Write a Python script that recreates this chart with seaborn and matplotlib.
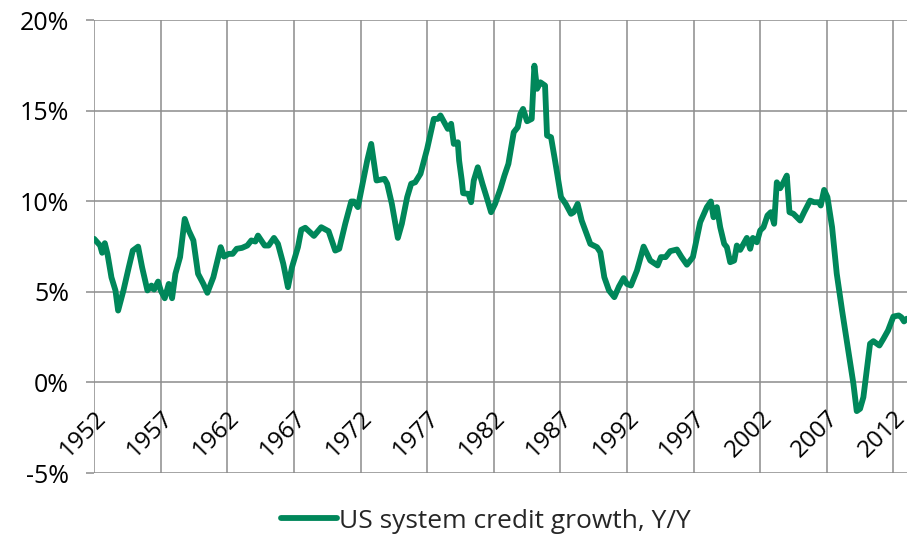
import matplotlib
matplotlib.use("Agg")
import matplotlib.pyplot as plt
import seaborn as sns
import pandas as pd


# Data (year, Y/Y growth in %)
years = [
    1952.0, 1952.45, 1952.6, 1952.8, 1953.0, 1953.3, 1953.6, 1953.8, 1954.2, 1954.6,
    1954.9, 1955.3, 1955.6, 1956.0, 1956.3, 1956.5, 1956.8, 1957.0, 1957.3, 1957.6,
    1957.85, 1958.1, 1958.45, 1958.8, 1959.1, 1959.45, 1959.8, 1960.2, 1960.5, 1960.95,
    1961.5, 1961.75, 1962.1, 1962.4, 1962.7, 1963.1, 1963.5, 1963.8, 1964.1, 1964.3,
    1964.8, 1965.1, 1965.5, 1965.8, 1966.2, 1966.55, 1966.85, 1967.3, 1967.55, 1967.85,
    1968.5, 1969.05, 1969.6, 1970.1, 1970.4, 1970.85, 1971.3, 1971.5, 1971.8, 1972.1,
    1972.5, 1972.8, 1973.2, 1973.8, 1974.0, 1974.35, 1974.8, 1975.1, 1975.5, 1975.8,
    1976.1, 1976.5, 1977.0, 1977.5, 1977.8, 1978.0, 1978.55, 1978.8, 1979.0, 1979.3,
    1979.4, 1979.6, 1979.7, 1980.1, 1980.3, 1980.5, 1980.8, 1981.15, 1981.5, 1981.8,
    1982.1, 1982.5, 1982.8, 1983.1, 1983.5, 1983.8, 1984.0, 1984.2, 1984.5, 1984.85,
    1985.05, 1985.25, 1985.5, 1985.85, 1986.0, 1986.3, 1986.6, 1987.05, 1987.4, 1987.8,
    1988.0, 1988.3, 1988.6, 1989.25, 1989.75, 1990.0, 1990.3, 1990.65, 1991.05, 1991.4,
    1991.75, 1992.0, 1992.3, 1992.75, 1993.25, 1993.75, 1994.3, 1994.55, 1994.9, 1995.25,
    1995.75, 1996.1, 1996.5, 1996.95, 1997.5, 1998.0, 1998.3, 1998.5, 1998.75, 1999.0,
    1999.3, 1999.5, 1999.75, 2000.05, 2000.25, 2000.5, 2001.0, 2001.25, 2001.45, 2001.75,
    2002.0, 2002.25, 2002.55, 2002.8, 2003.05, 2003.25, 2003.5, 2003.75, 2004.0, 2004.2,
    2004.5, 2005.0, 2005.3, 2005.75, 2006.05, 2006.4, 2006.55, 2006.8, 2007.05, 2007.4,
    2007.75, 2008.15, 2008.65, 2009.0, 2009.25, 2009.5, 2009.75, 2010.0, 2010.25, 2010.5,
    2010.95, 2011.25, 2011.6, 2012.0, 2012.4, 2012.6, 2012.8, 2013.0,
]
growth = [
    7.93, 7.56, 7.16, 7.69, 7.1, 5.8, 5.08, 3.97, 5.08, 6.36,
    7.28, 7.5, 6.36, 5.08, 5.35, 5.13, 5.57, 5.08, 4.65, 5.44,
    4.65, 6.0, 6.92, 9.03, 8.39, 7.84, 6.0, 5.44, 4.95, 5.81,
    7.47, 6.95, 7.1, 7.1, 7.38, 7.43, 7.56, 7.84, 7.78, 8.11,
    7.56, 7.56, 7.98, 7.65, 6.55, 5.26, 6.36, 7.47, 8.43, 8.54,
    8.09, 8.57, 8.35, 7.28, 7.38, 8.76, 9.99, 9.99, 9.68, 10.78,
    12.25, 13.17, 11.15, 11.24, 10.97, 9.86, 7.98, 8.76, 10.23, 10.97,
    11.05, 11.52, 12.9, 14.55, 14.55, 14.74, 14.0, 14.28, 13.17, 13.26,
    12.25, 11.15, 10.45, 10.41, 9.95, 11.15, 11.88, 10.97, 10.14, 9.4,
    9.86, 10.69, 11.42, 12.07, 13.81, 14.09, 14.83, 15.1, 14.42, 14.55,
    17.49, 16.21, 16.57, 16.39, 13.63, 13.54, 12.25, 10.23, 9.86, 9.31,
    9.4, 9.86, 8.94, 7.65, 7.47, 7.19, 5.81, 5.08, 4.71, 5.3,
    5.76, 5.44, 5.35, 6.18, 7.5, 6.73, 6.46, 6.92, 6.92, 7.25,
    7.34, 6.92, 6.5, 6.92, 8.85, 9.68, 9.99, 9.12, 9.68, 8.57,
    7.65, 7.47, 6.64, 6.73, 7.56, 7.32, 7.98, 7.38, 7.98, 7.74,
    8.39, 8.57, 9.22, 9.4, 8.76, 11.05, 10.72, 11.05, 11.42, 9.4,
    9.31, 8.94, 9.4, 10.04, 9.95, 9.95, 9.77, 10.63, 10.23, 8.57,
    6.0, 3.97, 1.58, -0.07, -1.58, -1.45, -0.81, 0.66, 2.14, 2.28,
    2.04, 2.41, 2.87, 3.64, 3.70, 3.6, 3.37, 3.52,
]
year_ticks = list(range(1952, 2013, 5))
pct_ticks = [-5, 0, 5, 10, 15, 20]
series_name = "US system credit growth, Y/Y"

df = pd.DataFrame({"year": years, "growth": growth})

sns.set_theme(style="white")
plt.rcParams["font.family"] = ["Open Sans", "DejaVu Sans"]

fig = plt.figure(figsize=(9.14, 5.45), dpi=100)
ax = fig.add_axes([0.103, 0.132, 0.889, 0.831])

sns.lineplot(
    data=df, x="year", y="growth",
    color="#00875A", linewidth=3.6, ax=ax,
    label=series_name, legend=False,
)

ax.set_xlim(1952, 2013)
ax.set_ylim(-5, 20)
ax.set_xticks(year_ticks)
ax.set_yticks(pct_ticks)
ax.set_yticklabels([f"{v}%" for v in pct_ticks])

grid_col = "#8C8C8C"
ax.grid(True, color=grid_col, linewidth=1.1)
ax.set_axisbelow(True)

for s in ["top", "right", "left"]:
    ax.spines[s].set_visible(False)
# year labels hang off the 0% line, like the original
ax.spines["bottom"].set_position(("data", 0))
ax.spines["bottom"].set_visible(False)

ax.tick_params(axis="y", length=6, width=1.1, color=grid_col, pad=12,
               labelsize=18, labelcolor="black", left=True)
ax.tick_params(axis="x", length=0, pad=17, labelsize=17.5, labelcolor="black")
for lab in ax.get_xticklabels():
    lab.set_rotation(45)
    lab.set_ha("right")
    lab.set_va("top")
    lab.set_rotation_mode("anchor")

ax.set_xlabel("")
ax.set_ylabel("")

handles, labels = ax.get_legend_handles_labels()
for h in handles:
    h.set_linewidth(4.2)
fig.legend(handles, labels, loc="center", bbox_to_anchor=(0.532, 0.044),
           frameon=False, fontsize=19, handlelength=2.1, handletextpad=0.1)

fig.savefig("out.png", dpi=100)
